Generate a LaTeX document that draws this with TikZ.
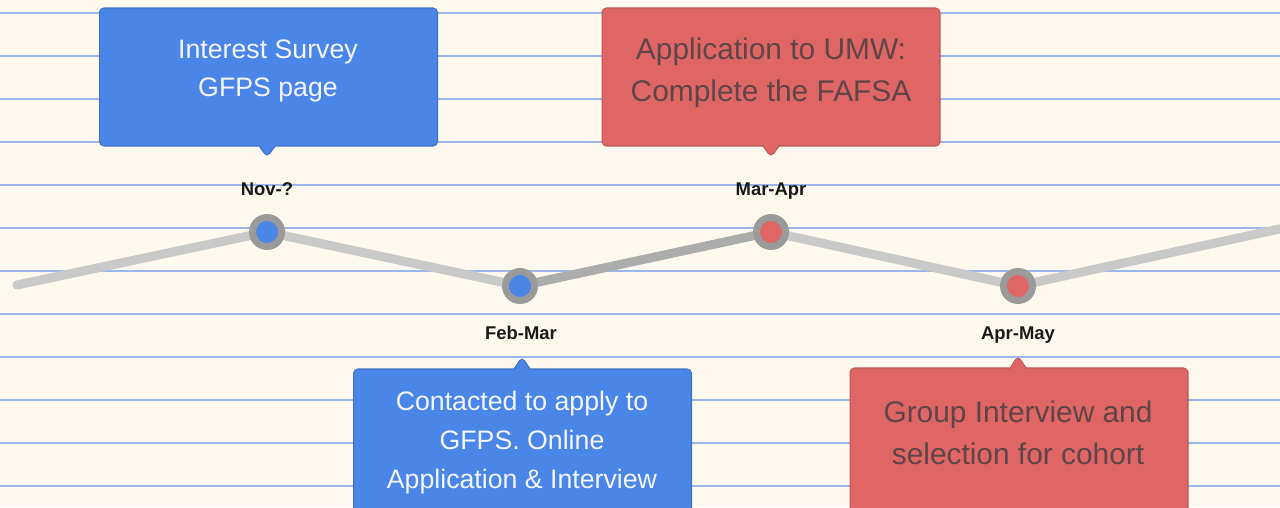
\documentclass[tikz,border=0pt]{standalone}
\usepackage{fontspec}
\setmainfont{Liberation Sans}
\usetikzlibrary{shapes.callouts,backgrounds}

\definecolor{paper}{HTML}{FDF9EE}
\definecolor{rule}{HTML}{9DB7EA}
\definecolor{slideblue}{HTML}{4A86E8}
\definecolor{slidered}{HTML}{E06666}
\definecolor{track}{HTML}{C9C9C9}
\definecolor{trackdark}{HTML}{ACACAC}
\definecolor{ring}{HTML}{9A9A9A}
\definecolor{redtext}{HTML}{5E4646}
\definecolor{bluetext}{HTML}{F3F6FC}

\tikzset{
  card/.style={rectangle callout, fill=#1, draw=#1!85!black, line width=0.6pt,
    rounded corners=2.5pt, inner sep=0pt, callout pointer width=0.32cm,
    minimum width=6.76cm, minimum height=2.76cm},
  dot/.style={circle, fill=#1, draw=ring, line width=3.97pt,
    minimum size=0.58cm, inner sep=0pt},
  track/.style={draw=#1, line width=0.18cm, line cap=round},
  when/.style={font=\fontsize{10.5}{12}\selectfont\bfseries, text=black!90,
    inner sep=0pt, anchor=base},
  bluetxt/.style={align=center, text=bluetext, inner sep=0pt,
    font=\fontsize{15.2}{22.1}\selectfont},
  redtxt/.style={align=center, text=redtext, inner sep=0pt,
    font=\fontsize{17}{24}\selectfont},
}

\begin{document}
\begin{tikzpicture}[x=0.02cm, y=-0.02cm]
  \useasboundingbox (0,0) rectangle (1280,507);
  % Dots
  \node[dot=slideblue] (nov) at (267,232) {};
  \node[dot=slideblue] (feb) at (520,286) {};
  \node[dot=slidered] (mar) at (771,232) {};
  \node[dot=slidered] (apr) at (1018,286) {};
  \coordinate (start) at (17,285);
  \coordinate (end) at (1284,228);
  % Paper, rules and track
  \begin{scope}[on background layer]
    \fill[paper] (0,0) rectangle (1280,507);
    \foreach \y in {13,56,...,486}
      \draw[rule, line width=0.85pt] (0,\y) -- (1280,\y);
    \draw[track=track] (start) -- (nov.center);
    \draw[track=track] (nov.center) -- (feb.center);
    \draw[track=trackdark] (feb.center) -- (mar.center);
    \draw[track=track] (mar.center) -- (apr.center);
    \draw[track=track] (apr.center) -- (end);
  \end{scope}
  % Dates
  \node[when] (nov lbl) at (267,195) {Nov-?};
  \node[when] (feb lbl) at (521,339) {Feb-Mar};
  \node[when] (mar lbl) at (771,195) {Mar-Apr};
  \node[when] (apr lbl) at (1018,339) {Apr-May};
  % Cards
  \node[card=slideblue, callout absolute pointer={(267,157)}] (survey) at (268.5,77) {};
  \node[card=slidered, callout absolute pointer={(771,157)}] (umw) at (771,77) {};
  \node[card=slideblue, minimum height=3cm, callout absolute pointer={(522,357)}] (contact) at (522.5,444) {};
  \node[card=slidered, minimum height=3cm, callout absolute pointer={(1018,356)}] (cohort) at (1019,443) {};
  % Card texts
  \node[bluetxt] (survey txt) at (268,71) {Interest Survey\\GFPS page};
  \node[redtxt] (umw txt) at (771,73) {Application to UMW:\\Complete the FAFSA};
  \node[bluetxt] (contact txt) at (522,442.5) {Contacted to apply to\\GFPS. Online\\Application \& Interview};
  \node[redtxt] (cohort txt) at (1018,432.5) {Group Interview and\\selection for cohort};
\end{tikzpicture}
\end{document}
